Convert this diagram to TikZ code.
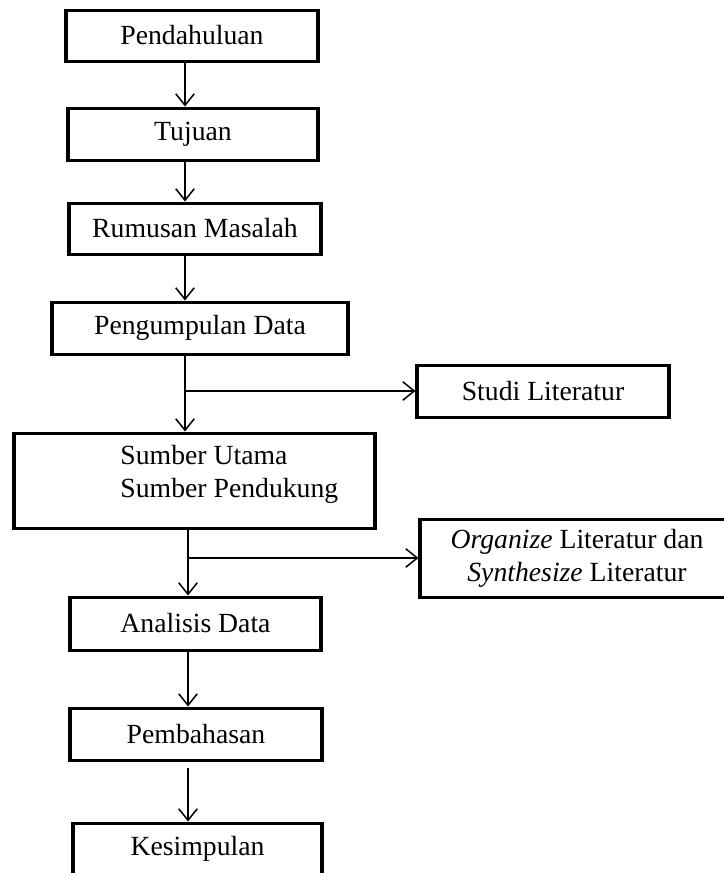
\documentclass[tikz,border=0pt]{standalone}
\usepackage{fontspec}
\setmainfont{Liberation Serif}
\usetikzlibrary{arrows.meta}

\begin{document}
\begin{tikzpicture}[x=0.433pt,y=-0.433pt,
    box/.style={draw,line width=1.3pt,inner sep=0pt,
        font=\fontsize{12}{14.3}\selectfont},
    sz/.style 2 args={minimum width=#1*0.433pt,minimum height=#2*0.433pt},
    arr/.style={line width=0.65pt,-{Straight Barb[length=5pt,width=8pt]}},
    link/.style={line width=0.65pt}]
    \useasboundingbox (0,0) rectangle (724,873);
    \clip (0,0) rectangle (724,873);
    % spine of the flow
    \coordinate (spineA) at (185,0);
    \coordinate (spineB) at (188,0);
    % main column
    \node[box,sz={252}{51}] (pend) at (192,35.5) {Pendahuluan};
    \node[box,sz={250}{52}] (tuj) at (193,134) {Tujuan};
    \node[box,sz={252}{51}] (rum) at (195,228.5) {Rumusan Masalah};
    \node[box,sz={296}{52}] (peng) at (200,328) {Pengumpulan Data};
    \node[box,sz={361}{95}] (sumber) at (194.5,480.5) {};
    \node[font=\fontsize{12}{14.3}\selectfont,align=left,inner sep=0pt,anchor=west]
        (sumbertxt) at (120,474) {Sumber Utama\\Sumber Pendukung};
    \node[box,sz={251}{53}] (anal) at (195.5,623.5) {Analisis Data};
    \node[box,sz={252}{52}] (pemb) at (196,734) {Pembahasan};
    \node[box,sz={249}{52}] (kes) at (197.5,849) {Kesimpulan};
    % side boxes
    \node[box,sz={252}{52}] (studi) at (543,391) {Studi Literatur};
    \node[box,sz={314}{78},align=center] (org) at (577,558)
        {\textit{Organize} Literatur dan\\\textit{Synthesize} Literatur};
    % arrows
    \draw[arr] (pend.south -| spineA) -- (tuj.north -| spineA);
    \draw[arr] (tuj.south -| spineA) -- (rum.north -| spineA);
    \draw[arr] (rum.south -| spineA) -- (peng.north -| spineA);
    \draw[arr] (peng.south -| spineA) -- (sumber.north -| spineA);
    \draw[arr] (studi.west -| spineA) -- (studi.west);
    \draw[arr] (sumber.south -| spineB) -- (anal.north -| spineB);
    \draw[arr] (org.west -| spineB) -- (org.west);
    \draw[arr] (anal.south -| spineB) -- (pemb.north -| spineB);
    \draw[arr,shorten <=3pt] (pemb.south -| spineB) -- (kes.north -| spineB);
\end{tikzpicture}
\end{document}
